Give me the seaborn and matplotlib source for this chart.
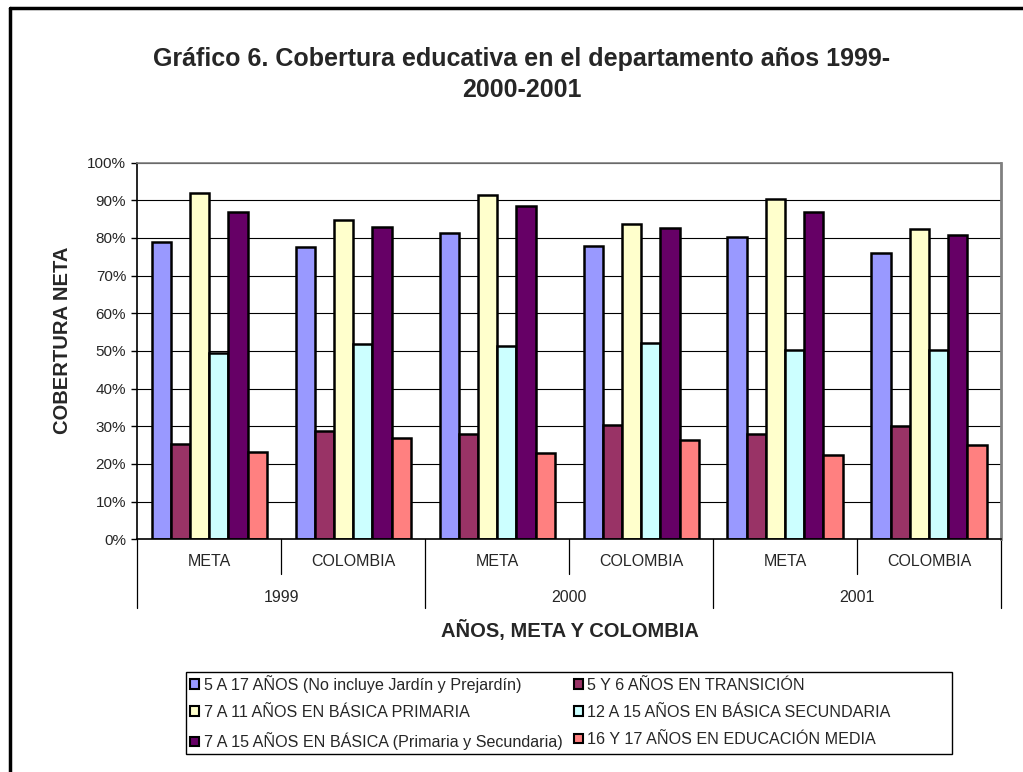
import numpy as np
import pandas as pd
import matplotlib
matplotlib.use('Agg')
import matplotlib.pyplot as plt
import seaborn as sns
from matplotlib.patches import Patch, Rectangle
from matplotlib.lines import Line2D
from matplotlib.ticker import PercentFormatter
from matplotlib.transforms import blended_transform_factory

# ==========================================
# 0. Estilo
# ==========================================
sns.set_style("white")
plt.rcParams['font.family'] = ['Liberation Sans', 'DejaVu Sans']

# ==========================================
# 1. Datos
# ==========================================
anios = ["1999", "2000", "2001"]
zonas = ["META", "COLOMBIA"]

series = [
    "5 A 17 AÑOS (No incluye Jardín y Prejardín)",
    "5 Y 6 AÑOS EN TRANSICIÓN",
    "7 A 11 AÑOS EN BÁSICA PRIMARIA",
    "12 A 15 AÑOS EN BÁSICA SECUNDARIA",
    "7 A 15 AÑOS EN BÁSICA (Primaria y Secundaria)",
    "16 Y 17 AÑOS EN EDUCACIÓN MEDIA",
]

# orden: 1999 META, 1999 COLOMBIA, 2000 META, 2000 COLOMBIA, 2001 META, 2001 COLOMBIA
cob_5a17 = [0.790, 0.777, 0.813, 0.779, 0.803, 0.760]
cob_5y6 = [0.253, 0.288, 0.280, 0.303, 0.280, 0.301]
cob_primaria = [0.918, 0.848, 0.913, 0.838, 0.903, 0.823]
cob_secundaria = [0.495, 0.518, 0.514, 0.521, 0.503, 0.503]
cob_basica = [0.870, 0.828, 0.885, 0.826, 0.868, 0.807]
cob_media = [0.233, 0.268, 0.228, 0.264, 0.224, 0.250]

valores = [cob_5a17, cob_5y6, cob_primaria, cob_secundaria, cob_basica, cob_media]
colores = ["#9999FF", "#993366", "#FFFFCC", "#CCFFFF", "#660066", "#FF8080"]

posiciones = [f"{a}-{z}" for a in anios for z in zonas]
filas = []
for nombre, vals in zip(series, valores):
    for pos, v in zip(posiciones, vals):
        filas.append({"pos": pos, "serie": nombre, "valor": v})
df = pd.DataFrame(filas)

# ==========================================
# 2. Figura
# ==========================================
W, H = 1023, 772
fig = plt.figure(figsize=(W / 100, H / 100), dpi=100)
x0, x1, y0, y1 = 137.3, 1001, 162.6, 539.3
ax = fig.add_axes([x0 / W, 1 - y1 / H, (x1 - x0) / W, (y1 - y0) / H])

sns.barplot(data=df, x="pos", y="valor", hue="serie", order=posiciones,
            hue_order=series, palette=colores, saturation=1, width=0.8,
            edgecolor="black", linewidth=1.8, errorbar=None, legend=False, ax=ax)

ax.set_xlim(-0.5, len(posiciones) - 0.5)
ax.set_ylim(0, 1)
ax.set_yticks(np.arange(0, 1.01, 0.1))
ax.yaxis.set_major_formatter(PercentFormatter(1.0, decimals=0))
ax.yaxis.grid(True, color="black", linewidth=0.8)
ax.set_axisbelow(True)
ax.tick_params(axis="y", direction="out", length=4, width=1, color="black",
               pad=4, labelsize=11, left=True)
ax.tick_params(axis="x", length=0, labelbottom=False)
ax.set_xlabel("")
ax.set_ylabel("")

for lado in ["left", "bottom"]:
    ax.spines[lado].set_color("black")
    ax.spines[lado].set_linewidth(1.2)
ax.spines["top"].set_color("#808080")
ax.spines["top"].set_linewidth(1.2)
ax.spines["right"].set_color("#808080")
ax.spines["right"].set_linewidth(2)

# eje de categorías jerárquico
trans = blended_transform_factory(ax.transData, ax.transAxes)
alto = y1 - y0
y_zona = -(562 - y1) / alto
y_anio = -(597 - y1) / alto
y_corto = -(574 - y1) / alto
y_largo = -(608 - y1) / alto
for i, pos in enumerate(posiciones):
    ax.text(i, y_zona, pos.split("-")[1], transform=trans, ha="center",
            va="center", fontsize=11.5)
for j, a in enumerate(anios):
    ax.text(2 * j + 0.5, y_anio, a, transform=trans, ha="center",
            va="center", fontsize=11.5)
for k in range(len(posiciones) + 1):
    xs = k - 0.5
    fin = y_largo if k % 2 == 0 else y_corto
    ax.plot([xs, xs], [0, fin], transform=trans, color="black", lw=0.9,
            clip_on=False)

# textos
fig.text(522 / W, 1 - 66 / H, "Gráfico 6. Cobertura educativa en el departamento años 1999-",
         ha="center", va="baseline", fontsize=18, fontweight="bold")
fig.text(522 / W, 1 - 97 / H, "2000-2001", ha="center", va="baseline",
         fontsize=18, fontweight="bold")
fig.text(62 / W, 1 - 340 / H, "COBERTURA NETA", rotation=90, ha="center",
         va="center", fontsize=14.5, fontweight="bold")
fig.text(569.5 / W, 1 - 630 / H, "AÑOS, META Y COLOMBIA", ha="center",
         va="center", fontsize=14.5, fontweight="bold")

# leyenda (orden por filas)
handles = [Patch(facecolor=c, edgecolor="black", linewidth=1.5) for c in colores]
orden = [0, 2, 4, 1, 3, 5]
fig.legend([handles[i] for i in orden], [series[i] for i in orden], ncol=2,
           loc="upper left", bbox_to_anchor=(190 / W, 1 - 675 / H),
           frameon=False, fontsize=11.6, handlelength=0.55, handleheight=0.55,
           handletextpad=0.3, columnspacing=0.7, labelspacing=0.75,
           borderaxespad=0, borderpad=0)
fig.add_artist(Rectangle((186 / W, 1 - 754 / H), (952 - 186) / W, 82 / H,
                         transform=fig.transFigure, fill=False,
                         edgecolor="black", linewidth=1))

# marco exterior (solo arriba e izquierda visibles)
fig.add_artist(Line2D([10 / W, 10 / W], [0, 1 - 7.5 / H], color="black",
                      linewidth=2.5, transform=fig.transFigure))
fig.add_artist(Line2D([10 / W, 1], [1 - 7.5 / H, 1 - 7.5 / H], color="black",
                      linewidth=2.5, transform=fig.transFigure))

fig.savefig("out.png", dpi=100)
